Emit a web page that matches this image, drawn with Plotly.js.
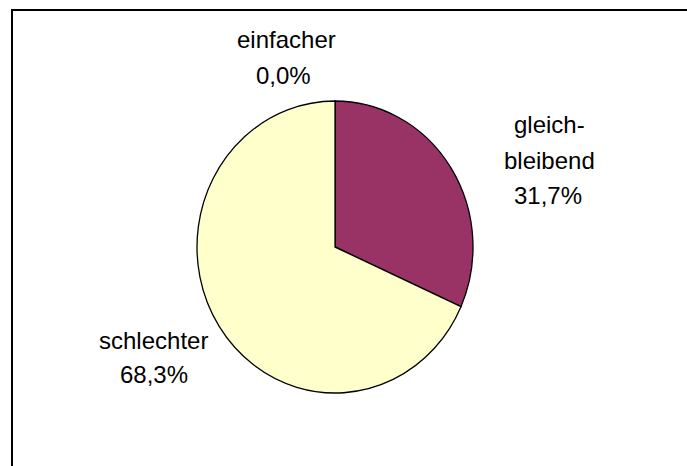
<!DOCTYPE html>
<html>
<head>
<meta charset="utf-8">
<script src="https://cdn.plot.ly/plotly-3.0.1.min.js"></script>
<style>html,body{margin:0;padding:0;background:#fff;}#chart{width:687px;height:466px;}</style>
</head>
<body>
<div id="chart"></div>
<script>
// ---- data ----
const categories = ['einfacher', 'gleichbleibend', 'schlechter'];
const labelLines = [['einfacher'], ['gleich-', 'bleibend'], ['schlechter']];
const values = [0.0, 31.7, 68.3];
const colors = ['#FFFFFF', '#993366', '#FFFFCC'];

// ---- layout helpers (pixel positions of label line centres) ----
const W = 687, H = 466;
const labelAnchors = [
  [[286, 40], [283, 75]],
  [[549, 125], [549, 160], [548, 195]],
  [[153, 340], [154, 374]]
];
const fmtPct = v => v.toFixed(1).replace('.', ',') + '%';

const annotations = [];
categories.forEach((c, i) => {
  const lines = labelLines[i].concat([fmtPct(values[i])]);
  lines.forEach((t, j) => {
    const p = labelAnchors[i][j];
    annotations.push({
      text: t, xref: 'paper', yref: 'paper',
      x: p[0] / W, y: 1 - p[1] / H,
      xanchor: 'center', yanchor: 'middle', showarrow: false,
      font: {family: 'Liberation Sans, Arial, sans-serif', size: 24, color: '#000'}
    });
  });
});

const cx = 335, cy = 247, r = 138;
const trace = {
  type: 'pie',
  labels: categories,
  values: values,
  sort: false,
  direction: 'clockwise',
  rotation: 0,
  textinfo: 'none',
  hoverinfo: 'none',
  marker: {colors: colors, line: {color: '#000', width: 1.3}},
  domain: {x: [(cx - r) / W, (cx + r) / W], y: [(H - cy - r) / H, (H - cy + r) / H]},
  showlegend: false
};

const layout = {
  width: W, height: H,
  margin: {l: 0, r: 0, t: 0, b: 0},
  paper_bgcolor: '#ffffff',
  showlegend: false,
  annotations: annotations,
  shapes: [
    {type: 'line', xref: 'paper', yref: 'paper', x0: 12 / W, x1: 12 / W, y0: 0, y1: 1 - 9 / H,
     line: {color: '#000', width: 2}},
    {type: 'line', xref: 'paper', yref: 'paper', x0: 11 / W, x1: 1, y0: 1 - 10 / H, y1: 1 - 10 / H,
     line: {color: '#000', width: 2}}
  ]
};

Plotly.newPlot('chart', [trace], layout, {displayModeBar: false, staticPlot: true}).then(() => {
  // reference pie is slightly taller than wide
  const sy = 146 / 138;
  document.querySelectorAll('.pielayer .trace').forEach(g => {
    g.setAttribute('transform', `translate(${cx},${cy}) scale(1,${sy}) translate(${-cx},${-cy})`);
  });
});
</script>
</body>
</html>
